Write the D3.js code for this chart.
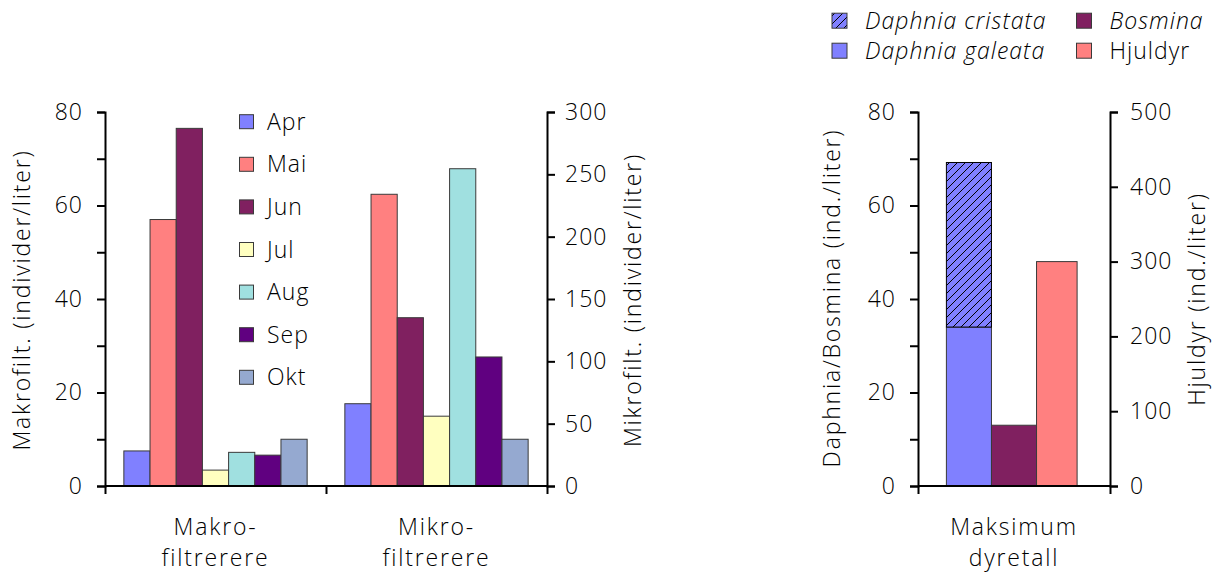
<!DOCTYPE html>
<html>
<head>
<meta charset="utf-8">
<script src="https://cdn.jsdelivr.net/npm/d3@7"></script>
<style>
  body { margin: 0; background: #fff; }
  svg text { font-family: "Open Sans", Lato, sans-serif; font-weight: 300; fill: #000; letter-spacing: 1px; }
  svg text.wide { letter-spacing: 1.8px; }
</style>
</head>
<body>
<svg id="chart" width="1223" height="578"></svg>
<script>
// ---- data ----
const categories = ["Makro", "Mikro"];
const categoryLabels = [["Makro-", "filtrerere"], ["Mikro-", "filtrerere"]];
const months = ["Apr", "Mai", "Jun", "Jul", "Aug", "Sep", "Okt"];
const monthColors = ["#8080FF", "#FF8080", "#802060", "#FFFFC0", "#A0E0E0", "#600080", "#95A9D0"];
const makroValues = [7.5, 57, 76.5, 3.4, 7.2, 6.6, 10.0];      // left axis
const mikroValues = [66, 234, 135, 56, 254.5, 103.5, 37.5];     // right axis
const leftTicks1 = [0, 20, 40, 60, 80];
const rightTicks1 = [0, 50, 100, 150, 200, 250, 300];

const series2 = ["Daphnia", "Bosmina", "Hjuldyr"];
const daphniaGaleata = 34;
const daphniaCristata = 35.2;
const bosmina = 13;
const hjuldyr = 300;   // right axis
const leftTicks2 = [0, 20, 40, 60, 80];
const rightTicks2 = [0, 100, 200, 300, 400, 500];
const legend2 = [
  { name: "Daphnia cristata", color: "#8080FF", hatch: true, italic: true },
  { name: "Daphnia galeata", color: "#8080FF", hatch: false, italic: true },
  { name: "Bosmina", color: "#802060", hatch: false, italic: true },
  { name: "Hjuldyr", color: "#FF8080", hatch: false, italic: false }
];

const svg = d3.select("#chart");
const FS = 23;
const stroke = "#3a3a3a";

// hatch pattern
const defs = svg.append("defs");
const pat = defs.append("pattern").attr("id", "hatch").attr("patternUnits", "userSpaceOnUse")
  .attr("width", 8).attr("height", 8);
pat.append("rect").attr("width", 8).attr("height", 8).attr("fill", "#8080FF");
pat.append("path").attr("d", "M-2,2 L2,-2 M0,8 L8,0 M6,10 L10,6").attr("stroke", "#000").attr("stroke-width", 1);

function styleAxis(g) {
  g.select(".domain").attr("stroke", "#000").attr("stroke-width", 2);
  g.selectAll(".tick line").attr("stroke", "#000").attr("stroke-width", 2);
  g.selectAll(".tick text").style("font-size", FS + "px").attr("fill", "#000");
}

// ===== Left chart =====
const y0 = 486, yTop = 112;
const x1 = d3.scaleBand().domain(categories).range([105, 547]);
const xm = d3.scaleBand().domain(months).range([0, x1.bandwidth()]).paddingInner(0).paddingOuter(0.72);
const yL1 = d3.scaleLinear().domain([0, 80]).range([y0, yTop]);
const yR1 = d3.scaleLinear().domain([0, 300]).range([y0, yTop]);

const c1 = svg.append("g");
const groups = [
  { cat: "Makro", vals: makroValues, y: yL1 },
  { cat: "Mikro", vals: mikroValues, y: yR1 }
];
groups.forEach(gr => {
  c1.selectAll(null).data(gr.vals).enter().append("rect")
    .attr("x", (d, i) => x1(gr.cat) + xm(months[i]))
    .attr("y", d => gr.y(d))
    .attr("width", xm.bandwidth())
    .attr("height", d => y0 - gr.y(d))
    .attr("fill", (d, i) => monthColors[i])
    .attr("stroke", stroke).attr("stroke-width", 1);
});

// axes
const axL1 = c1.append("g").attr("transform", "translate(105,0)")
  .call(d3.axisLeft(yL1).tickValues(d3.range(0, 81, 10)).tickSize(8).tickPadding(14)
    .tickFormat(d => leftTicks1.includes(d) ? d : ""));
styleAxis(axL1);
const axR1 = c1.append("g").attr("transform", "translate(547,0)")
  .call(d3.axisRight(yR1).tickValues(rightTicks1).tickSize(8).tickPadding(10));
styleAxis(axR1);
const axX1 = c1.append("g").attr("transform", `translate(0,${y0})`)
  .call(d3.axisBottom(d3.scaleLinear().domain([0, 2]).range([105, 547])).tickValues([0, 1, 2]).tickSize(8).tickFormat(""));
styleAxis(axX1);
axX1.select(".domain").attr("d", `M105,0H547`);

// category labels
categories.forEach((c, i) => {
  const t = c1.append("text").attr("class", "wide").attr("text-anchor", "middle").style("font-size", FS + "px")
    .attr("x", x1(c) + x1.bandwidth() / 2).attr("y", 535);
  categoryLabels[i].forEach((l, j) => t.append("tspan").attr("x", x1(c) + x1.bandwidth() / 2).attr("dy", j ? 31 : 0).text(l));
});

// axis titles
c1.append("text").attr("class", "wide").attr("transform", "translate(30,300) rotate(-90)").attr("text-anchor", "middle")
  .style("font-size", FS + "px").text("Makrofilt. (individer/liter)");
c1.append("text").attr("class", "wide").attr("transform", "translate(641,300) rotate(-90)").attr("text-anchor", "middle")
  .style("font-size", FS + "px").text("Mikrofilt. (individer/liter)");

// legend 1
const lg1 = c1.append("g");
months.forEach((m, i) => {
  const cy = 121.7 + i * 42.6;
  lg1.append("rect").attr("x", 239.5).attr("y", cy - 7).attr("width", 14).attr("height", 14)
    .attr("fill", monthColors[i]).attr("stroke", stroke).attr("stroke-width", 1);
  lg1.append("text").attr("x", 267).attr("y", cy + 8).style("font-size", FS + "px").text(m);
});

// ===== Right chart =====
const x2 = d3.scaleBand().domain(["Maksimum"]).range([918, 1110]);
const xs = d3.scaleBand().domain(series2).range([0, x2.bandwidth()]).paddingInner(0).paddingOuter(0.63);
const yL2 = d3.scaleLinear().domain([0, 80]).range([y0, yTop]);
const yR2 = d3.scaleLinear().domain([0, 500]).range([y0, yTop]);
const c2 = svg.append("g");
const bx = s => x2("Maksimum") + xs(s);

c2.append("rect").attr("x", bx("Daphnia")).attr("y", yL2(daphniaGaleata)).attr("width", xs.bandwidth())
  .attr("height", y0 - yL2(daphniaGaleata)).attr("fill", "#8080FF").attr("stroke", stroke).attr("stroke-width", 1);
c2.append("rect").attr("x", bx("Daphnia")).attr("y", yL2(daphniaGaleata + daphniaCristata)).attr("width", xs.bandwidth())
  .attr("height", yL2(daphniaGaleata) - yL2(daphniaGaleata + daphniaCristata)).attr("fill", "url(#hatch)")
  .attr("stroke", "#000").attr("stroke-width", 1);
c2.append("rect").attr("x", bx("Bosmina")).attr("y", yL2(bosmina)).attr("width", xs.bandwidth())
  .attr("height", y0 - yL2(bosmina)).attr("fill", "#802060").attr("stroke", stroke).attr("stroke-width", 1);
c2.append("rect").attr("x", bx("Hjuldyr")).attr("y", yR2(hjuldyr)).attr("width", xs.bandwidth() * 0.9)
  .attr("height", y0 - yR2(hjuldyr)).attr("fill", "#FF8080").attr("stroke", stroke).attr("stroke-width", 1);

const axL2 = c2.append("g").attr("transform", "translate(918,0)")
  .call(d3.axisLeft(yL2).tickValues(d3.range(0, 81, 10)).tickSize(8).tickPadding(14)
    .tickFormat(d => leftTicks2.includes(d) ? d : ""));
styleAxis(axL2);
const axR2 = c2.append("g").attr("transform", "translate(1110,0)")
  .call(d3.axisRight(yR2).tickValues(rightTicks2).tickSize(8).tickPadding(12));
styleAxis(axR2);
const axX2 = c2.append("g").attr("transform", `translate(0,${y0})`)
  .call(d3.axisBottom(d3.scaleLinear().domain([0, 1]).range([918, 1110])).tickValues([0, 1]).tickSize(8).tickFormat(""));
styleAxis(axX2);
axX2.select(".domain").attr("d", `M918,0H1110`);

const t2 = c2.append("text").attr("class", "wide").attr("text-anchor", "middle").style("font-size", FS + "px").attr("y", 535);
[["Maksimum"], ["dyretall"]].forEach((l, j) => t2.append("tspan").attr("x", 1014).attr("dy", j ? 31 : 0).text(l[0]));

c2.append("text").attr("class", "wide").attr("transform", "translate(840,298) rotate(-90)").attr("text-anchor", "middle")
  .style("font-size", FS + "px").text("Daphnia/Bosmina (ind./liter)");
c2.append("text").attr("class", "wide").attr("transform", "translate(1205,299) rotate(-90)").attr("text-anchor", "middle")
  .style("font-size", FS + "px").text("Hjuldyr (ind./liter)");

// legend 2
legend2.forEach((d, i) => {
  const col = Math.floor(i / 2), row = i % 2;
  const rx = col ? 1076.5 : 832;
  const cy = 20.7 + row * 30;
  c2.append("rect").attr("x", rx).attr("y", cy - 7.5).attr("width", 15).attr("height", 15)
    .attr("fill", d.hatch ? "url(#hatch)" : d.color).attr("stroke", stroke).attr("stroke-width", 1);
  c2.append("text").attr("x", rx + 33).attr("y", cy + 8).style("font-size", FS + "px")
    .style("font-style", d.italic ? "italic" : "normal").text(d.name);
});
</script>
</body>
</html>
